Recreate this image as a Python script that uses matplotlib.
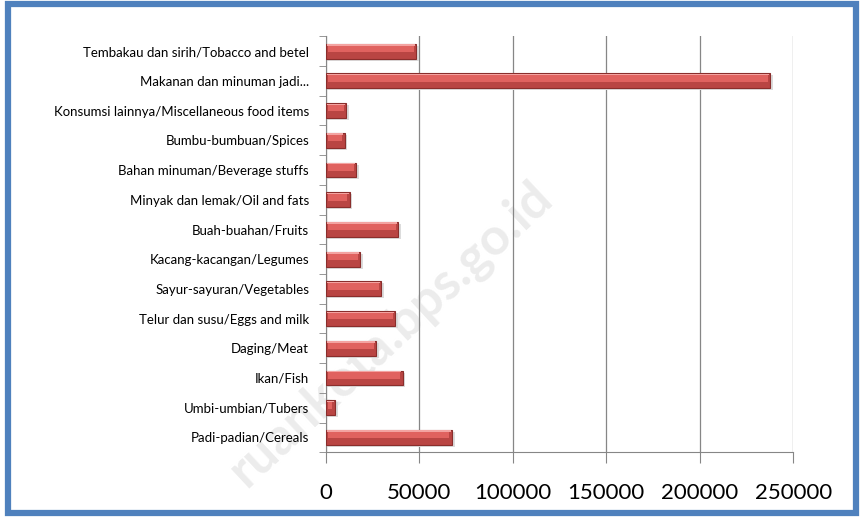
import matplotlib
matplotlib.use('Agg')
import matplotlib.pyplot as plt
import numpy as np
from matplotlib.patches import Rectangle

# categories, bottom to top as drawn
categories = [
    'Padi-padian/Cereals',
    'Umbi-umbian/Tubers',
    'Ikan/Fish',
    'Daging/Meat',
    'Telur dan susu/Eggs and milk',
    'Sayur-sayuran/Vegetables',
    'Kacang-kacangan/Legumes',
    'Buah-buahan/Fruits',
    'Minyak dan lemak/Oil and fats',
    'Bahan minuman/Beverage stuffs',
    'Bumbu-bumbuan/Spices',
    'Konsumsi lainnya/Miscellaneous food items',
    'Makanan dan minuman jadi...',
    'Tembakau dan sirih/Tobacco and betel',
]
values = [67400, 4800, 41100, 27000, 37300, 29600, 18400,
          38800, 12800, 16400, 10100, 11100, 237700, 48300]
x_ticks = [0, 50000, 100000, 150000, 200000, 250000]

plt.rcParams['font.family'] = ['Lato', 'DejaVu Sans']

fig = plt.figure(figsize=(8.64, 5.18), dpi=100)
ax = fig.add_axes([0.377, 0.127, 0.541, 0.803])
ax.set_zorder(2)

y = np.arange(len(categories))
vals = np.array(values)

# faint watermark, kept behind the axes
wm = fig.text(0.452, 0.355, 'ruankota.bps.go.id', rotation=43, fontsize=37,
              fontweight='bold', color='#ececec', ha='center', va='center')
wm.set_zorder(1)

# bevelled bars: shadow, base, highlight
ax.barh(y - 0.07, vals + 1500, height=0.5, color='#dcdcdc', zorder=2)
ax.barh(y, vals, height=0.5, color='#b94543', edgecolor='#8a2e2c', linewidth=0.8, zorder=3)
ax.barh(y + 0.08, vals - 2600, left=1300, height=0.22, color='#e0625f', zorder=4)
ax.barh(y + 0.21, vals - 1200, left=600, height=0.05, color='#f3a3a1', zorder=4)

ax.set_xlim(0, 250000)
ax.set_ylim(-0.5, len(categories) - 0.5)
ax.set_xticks(x_ticks)
ax.set_xticklabels([str(v) for v in x_ticks], fontsize=16)
ax.set_yticks(y)
ax.set_yticklabels(categories, fontsize=9.5)
ax.set_yticks(np.arange(-0.5, len(categories), 1), minor=True)
ax.tick_params(axis='y', which='major', length=0, pad=12)
ax.tick_params(axis='y', which='minor', length=5, color='#868686')
ax.tick_params(axis='x', length=8, color='#868686', pad=14)

ax.grid(axis='x', color='#868686', linewidth=0.9, zorder=1)
ax.set_axisbelow(True)
for s in ['top', 'right']:
    ax.spines[s].set_visible(False)
for s in ['left', 'bottom']:
    ax.spines[s].set_color('#868686')
ax.patch.set_alpha(0)

# blue frame around the chart
fig.patches.append(Rectangle((0.0098, 0.0087), 0.9804, 0.983, transform=fig.transFigure,
                             fill=False, edgecolor='#4f81bd', linewidth=4.5, zorder=10))

fig.savefig('out.png', dpi=100)
